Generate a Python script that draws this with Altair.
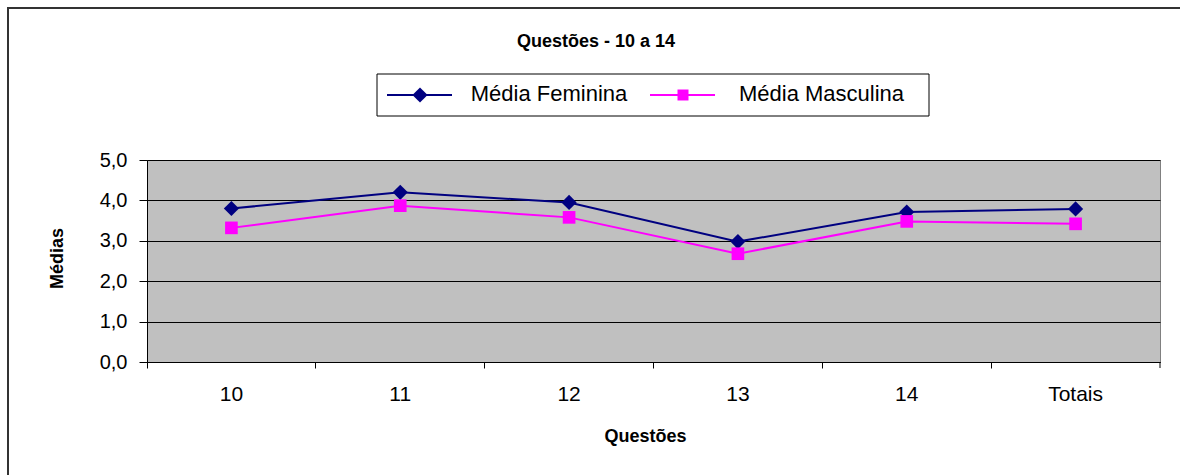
import altair as alt
import pandas as pd

# Questions and average scores by group
questoes = ["10", "11", "12", "13", "14", "Totais"]
media_feminina = [3.80, 4.20, 3.95, 2.98, 3.71, 3.79]
media_masculina = [3.32, 3.87, 3.58, 2.68, 3.48, 3.42]
series = ["Média Feminina", "Média Masculina"]
y_ticks = [0, 1, 2, 3, 4, 5]
chart_title = "Questões - 10 a 14"

W, H = 1013, 202
PAD = {"left": 147, "top": 160, "right": 20, "bottom": 113}
FONT = "Liberation Sans"
NAVY, MAGENTA = "#000080", "#FF00FF"
series_colors = [NAVY, MAGENTA]
series_shapes = ["diamond", "square"]

df = pd.DataFrame({
    "Questão": questoes * 2,
    "Média": media_feminina + media_masculina,
    "Série": [series[0]] * len(questoes) + [series[1]] * len(questoes),
})

x_enc = alt.X(
    "Questão:N",
    sort=questoes,
    scale=alt.Scale(type="band", paddingInner=0, paddingOuter=0),
    axis=alt.Axis(
        title="Questões",
        titleFont=FONT, titleFontSize=18, titleFontWeight="bold", titleColor="black",
        titleX=498, titleY=74, titleBaseline="middle",
        labelFont=FONT, labelFontSize=21, labelColor="black", labelAngle=0,
        labelBaseline="alphabetic", labelPadding=32,
        bandPosition=0, tickSize=6, tickColor="black", domainColor="black",
        grid=False,
    ),
)
y_enc = alt.Y(
    "Média:Q",
    scale=alt.Scale(domain=[0, 5], nice=False, zero=True),
    axis=alt.Axis(
        title="Médias",
        titleFont=FONT, titleFontSize=18, titleFontWeight="bold", titleColor="black",
        titleX=-90, titleY=98, titleAngle=270, titleBaseline="middle",
        values=y_ticks,
        labelExpr="replace(format(datum.value, '.1f'), '.', ',')",
        labelFont=FONT, labelFontSize=20, labelColor="black", labelPadding=12,
        tickSize=8, tickColor="black", domainColor="black",
        grid=True, gridColor="black", gridWidth=1, gridOpacity=1,
    ),
)
color_scale = alt.Scale(domain=series, range=series_colors)

base = alt.Chart(df)

lines = base.mark_line(strokeWidth=2).encode(
    x=x_enc, y=y_enc,
    color=alt.Color("Série:N", scale=color_scale, legend=None),
)

pts_fem = base.transform_filter(alt.datum["Série"] == series[0]).mark_point(
    shape="diamond", filled=True, size=230, opacity=1
).encode(x=x_enc, y=y_enc, color=alt.Color("Série:N", scale=color_scale, legend=None))

pts_masc = base.transform_filter(alt.datum["Série"] == series[1]).mark_point(
    shape="square", filled=True, size=160, opacity=1
).encode(x=x_enc, y=y_enc, color=alt.Color("Série:N", scale=color_scale, legend=None))

one = pd.DataFrame({"k": [0]})

# Legend box with a line + marker sample and a label for each series
LEG_Y = -65
legend_parts = [
    alt.Chart(one).mark_rect(fill="white", stroke="black", strokeWidth=1).encode(
        x=alt.value(230), x2=alt.value(782), y=alt.value(-86), y2=alt.value(-44)
    )
]
entry_left = [240, 503]
label_center = [402, 674.5]
marker_size = [230, 121]
for i, name in enumerate(series):
    x0 = entry_left[i]
    legend_parts.append(
        alt.Chart(one).mark_rule(color=series_colors[i], strokeWidth=2).encode(
            x=alt.value(x0), x2=alt.value(x0 + 65), y=alt.value(LEG_Y)
        )
    )
    legend_parts.append(
        alt.Chart(one).mark_point(
            shape=series_shapes[i], filled=True, opacity=1,
            size=marker_size[i], color=series_colors[i],
        ).encode(x=alt.value(x0 + 33), y=alt.value(LEG_Y))
    )
    legend_parts.append(
        alt.Chart(one).mark_text(
            font=FONT, fontSize=22, color="black", align="center", baseline="alphabetic"
        ).encode(x=alt.value(label_center[i]), y=alt.value(LEG_Y + 6), text=alt.value(name))
    )

# Outer frame: top and left edges, kept inside the drawing surface
frame_top = alt.Chart(one).mark_rule(color="#333333", strokeWidth=2).encode(
    x=alt.value(-139), x2=alt.value(W + PAD["right"]), y=alt.value(-152)
)
frame_left = alt.Chart(one).mark_rule(color="#333333", strokeWidth=2).encode(
    x=alt.value(-139), y=alt.value(-153), y2=alt.value(H + PAD["bottom"])
)
end_tick = alt.Chart(one).mark_rule(color="black", strokeWidth=1).encode(
    x=alt.value(W), y=alt.value(H), y2=alt.value(H + 6)
)
title_text = alt.Chart(one).mark_text(
    font=FONT, fontSize=18, fontWeight="bold", color="black",
    align="center", baseline="alphabetic",
).encode(x=alt.value(449), y=alt.value(-113), text=alt.value(chart_title))

chart = alt.layer(
    frame_top, frame_left, lines, pts_fem, pts_masc, end_tick, title_text, *legend_parts
).properties(
    width=W, height=H,
    autosize=alt.AutoSizeParams(type="none"),
    padding=PAD,
    background="white",
).configure_view(
    fill="#C0C0C0", stroke="#808080", strokeWidth=1
)

chart.save("out.html", embed_options={"renderer": "svg", "actions": False})
